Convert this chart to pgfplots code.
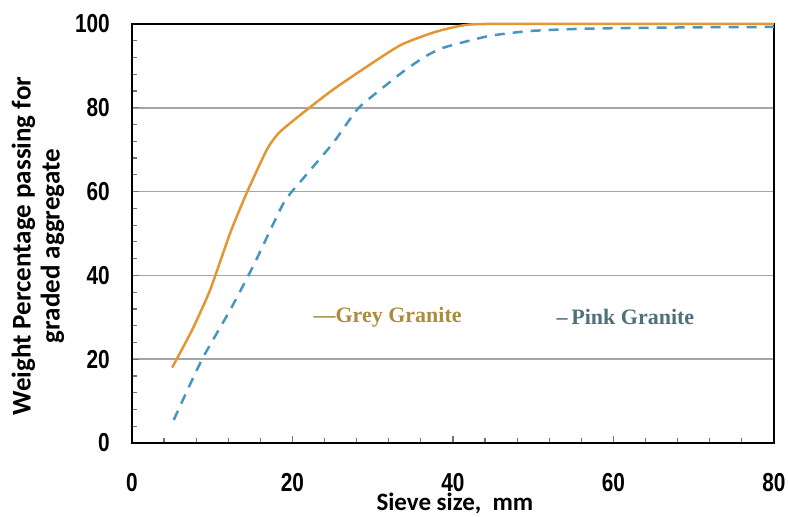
\documentclass[border=0pt]{standalone}
\usepackage{fontspec}
\usepackage{pgfplots}
\pgfplotsset{compat=1.18}
\setmainfont{Carlito}
\newfontfamily\tickfont[FakeStretch=0.8]{Liberation Sans}
\newfontfamily\legfont{Liberation Serif}

\definecolor{greyline}{RGB}{226,150,52}
\definecolor{pinkline}{RGB}{72,150,192}
\definecolor{greytxt}{RGB}{172,140,62}
\definecolor{pinktxt}{RGB}{78,112,124}
\definecolor{gridc}{RGB}{165,165,165}

\begin{document}
\begin{tikzpicture}
\useasboundingbox (-132pt,-74pt) rectangle (656pt,443pt);
\begin{axis}[
    at={(0,0)}, anchor=south west,
    scale only axis,
    width=642pt, height=419pt,
    xmin=0, xmax=80, ymin=0, ymax=100,
    xtick={0,20,...,80}, ytick={0,20,...,100},
    minor tick num=4,
    tick align=inside, tick pos=left,
    major tick length=7pt, minor tick length=5pt,
    tick style={black!55, line width=1.2pt},
    ymajorgrids, grid style={gridc, line width=1.5pt},
    axis line style={black, line width=2.5pt},
    /pgf/number format/assume math mode=true,
    ticklabel style={font=\tickfont\bfseries\fontsize{26}{26}\selectfont},
    xticklabel style={anchor=center, yshift=-40pt},
    yticklabel style={anchor=east, inner sep=0pt, xshift=-22pt},
    xlabel={Sieve size,\ \ mm},
    xlabel style={font=\bfseries\fontsize{25}{25}\selectfont, at={(axis description cs:0.503,0)}, anchor=center, yshift=-60pt},
    ylabel={Weight Percentage passing for\\graded aggregate},
    ylabel style={font=\bfseries\fontsize{27}{29}\selectfont, align=center, at={(axis description cs:-0.1464,0.47)}, anchor=center},
    clip=false,
]
\addplot[greyline, line width=2.5pt, smooth, tension=0.35] coordinates {
(5,18) (7.5,27) (9.75,36.6) (12.25,50.2) (14.3,59.7) (16.8,70) (18.4,74.2)
(21.9,79.7) (25.1,84.4) (29.4,90) (33.5,95) (37.6,98) (41,99.6) (44,100) (60,100) (80,100)};
\addplot[pinkline, line width=2.5pt, dash pattern=on 10pt off 8pt, smooth, tension=0.35] coordinates {
(5.2,5.5) (7,13) (8.9,20.6) (12.25,31.8) (15.2,42.6) (18.9,57.3) (21.4,63.3) (25.1,71.7)
(28.1,79.7) (31,84.4) (33.9,88.8) (36.5,92.2) (38.9,94.4) (44.4,97.1) (49.4,98.3) (55,98.8)
(60,99) (70,99.2) (80,99.3)};
\node[anchor=west, inner sep=0pt, text=greytxt, font=\legfont\bfseries\fontsize{22}{22}\selectfont] at (axis cs:22.6,30.1) {\textemdash Grey Granite};
\node[anchor=west, inner sep=0pt, text=pinktxt, font=\legfont\bfseries\fontsize{22}{22}\selectfont] at (axis cs:52.9,30.1) {\textendash\,Pink Granite};
\end{axis}
\end{tikzpicture}
\end{document}
